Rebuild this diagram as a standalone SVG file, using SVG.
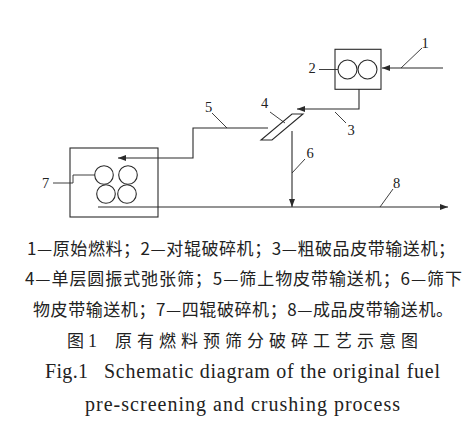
<svg xmlns="http://www.w3.org/2000/svg" width="474" height="429" viewBox="0 0 474 429">
<style>
.ln{fill:none;stroke:#2a2a2a;stroke-width:1.1}
.lead{fill:none;stroke:#2a2a2a;stroke-width:0.9}
.num{font-family:"Liberation Serif",serif;font-size:14.5px;fill:#222;text-anchor:middle}
.cn{font-family:"Noto Sans CJK SC",sans-serif;font-size:17px;fill:#222}
.ti{font-family:"Noto Sans CJK SC",sans-serif;font-size:17px;fill:#222}
.tn{font-family:"Liberation Serif",serif;font-size:18px;fill:#222}
.en{font-family:"Liberation Serif",serif;font-size:20px;fill:#222}
</style>
<defs>
<marker id="ah" markerUnits="userSpaceOnUse" markerWidth="8" markerHeight="6" refX="8" refY="3" orient="auto">
<path d="M0,0 L8,3 L0,6 z" fill="#2a2a2a"/>
</marker>
</defs>
<rect width="474" height="429" fill="#fff"/>
<g id="connectors">
<path class="ln" d="M443,68 H382" marker-end="url(#ah)"/>
<path class="ln" d="M359,89 V109 H297" marker-end="url(#ah)"/>
<path class="ln" d="M268,128 H193 V158 H118" marker-end="url(#ah)"/>
<path class="ln" d="M292,131 V207" marker-end="url(#ah)"/>
<path class="ln" d="M98,207 H448" marker-end="url(#ah)"/>
</g>
<g id="crusher2">
<rect class="ln" x="335" y="49.3" width="46" height="40"/>
<circle class="ln" cx="347.5" cy="69.5" r="9.5"/>
<circle class="ln" cx="367.5" cy="69.5" r="9.5"/>
</g>
<g id="screen4">
<polygon class="ln" points="261,140 272,140 303,114 292,114"/>
</g>
<g id="crusher7">
<rect class="ln" x="70" y="148" width="88" height="69"/>
<circle class="ln" cx="104" cy="175" r="9.3"/>
<circle class="ln" cx="128" cy="175" r="9.3"/>
<circle class="ln" cx="106" cy="194" r="9.3"/>
<circle class="ln" cx="127" cy="194" r="9.3"/>
</g>
<g id="labels">
<path class="lead" d="M401,68 L422,48"/>
<path class="lead" d="M319,69.5 H338"/>
<path class="lead" d="M335,112 L346,123"/>
<path class="lead" d="M270,112 L285,123"/>
<path class="lead" d="M212,113 L227,128"/>
<path class="lead" d="M292,173 L305,159"/>
<path class="lead" d="M53,183 H73 V175 H94.7"/>
<path class="lead" d="M380,207 L393,189"/>
<text class="num" x="425" y="48">1</text>
<text class="num" x="312" y="73">2</text>
<text class="num" x="351" y="135">3</text>
<text class="num" x="264.5" y="108">4</text>
<text class="num" x="208.5" y="112">5</text>
<text class="num" x="310" y="158">6</text>
<text class="num" x="45.5" y="188">7</text>
<text class="num" x="396.5" y="188">8</text>
</g>
<g id="caption">
<text class="cn" x="27" y="254.5" textLength="428" lengthAdjust="spacing">1—原始燃料；2—对辊破碎机；3—粗破品皮带输送机；</text>
<text class="cn" x="25" y="284.5" textLength="437" lengthAdjust="spacing">4—单层圆振式弛张筛；5—筛上物皮带输送机；6—筛下</text>
<text class="cn" x="33" y="315.5" textLength="420" lengthAdjust="spacing">物皮带输送机；7—四辊破碎机；8—成品皮带输送机。</text>
<text class="ti" x="67" y="346.5">图</text>
<text class="tn" x="88" y="346.5">1</text>
<text class="ti" x="115" y="346.5" textLength="303" lengthAdjust="spacing">原有燃料预筛分破碎工艺示意图</text>
<text class="en" x="45" y="378" textLength="43" lengthAdjust="spacing">Fig.1</text>
<text class="en" x="104" y="378" textLength="336" lengthAdjust="spacing">Schematic diagram of the original fuel</text>
<text class="en" x="85" y="411" textLength="315" lengthAdjust="spacing">pre-screening and crushing process</text>
</g>
</svg>
